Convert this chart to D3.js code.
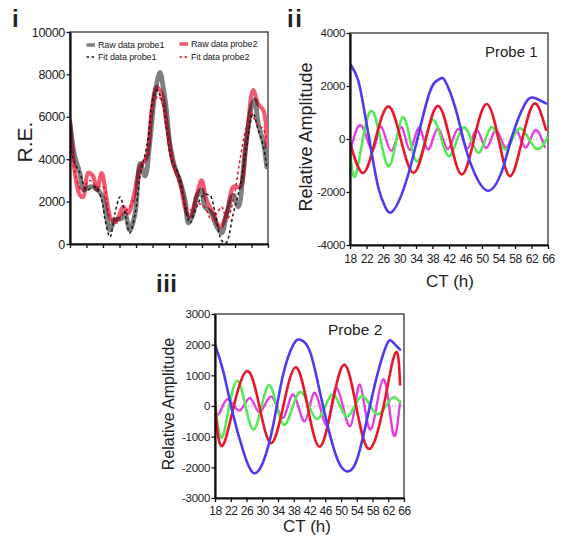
<!DOCTYPE html>
<html><head><meta charset="utf-8">
<script src="https://cdn.jsdelivr.net/npm/d3@7"></script>
<style>
body{margin:0;background:#fff}
svg{display:block}
text{font-family:"Liberation Sans",Arial,sans-serif;fill:#222}
</style>
</head><body>
<svg id="c" width="565" height="544"></svg>
<script>
// ---------- DATA ----------
const ctTicks = [18,22,26,30,34,38,42,46,50,54,58,62,66];
const reTicks = [0,2000,4000,6000,8000,10000];
const amp1Ticks = [-4000,-2000,0,2000,4000];
const amp2Ticks = [-3000,-2000,-1000,0,1000,2000,3000];

// Panel i : [CT (h), R.E.]
const rawProbe1 = [[18.0,5700],[19.2,4100],[20.4,3350],[21.2,2550],[22.8,2700],[24.1,2650],[25.7,2300],[26.9,1270],[27.7,660],[28.9,1130],[30.5,1200],[31.3,1450],[32.5,660],[33.8,1450],[35.0,3800],[36.2,3200],[37.4,4900],[38.6,7100],[39.8,8100],[40.6,7400],[41.4,6300],[42.2,4750],[43.4,3630],[44.6,3000],[45.9,2080],[46.7,990],[47.9,1450],[48.7,2220],[49.9,2550],[50.7,1750],[52.3,1450],[53.6,800],[54.8,520],[56.0,1450],[57.6,2300],[58.8,1750],[60.4,4300],[62.0,6470],[62.8,6800],[63.6,5700],[64.9,4750],[65.7,3630]];
const rawProbe2 = [[18.0,5800],[19.2,3350],[20.4,2300],[21.2,2220],[22.4,3350],[23.6,3200],[24.5,2550],[25.7,3350],[26.9,2080],[28.1,1130],[29.3,1130],[30.9,1750],[32.1,1450],[33.4,2220],[35.0,3630],[36.6,4100],[37.8,6300],[39.0,7400],[40.2,7100],[41.4,5700],[43.0,3800],[44.6,3000],[46.3,1450],[47.1,1300],[48.7,2300],[49.9,3000],[51.1,2080],[52.7,1450],[54.4,800],[56.0,1450],[57.6,2700],[59.2,2700],[60.8,4900],[62.4,7260],[63.6,6600],[64.9,6300],[65.7,4600]];
const fitProbe1 = [[18.0,5500],[18.8,3960],[20.4,3350],[22.0,2550],[24.1,2700],[25.7,2080],[26.5,1130],[27.7,330],[28.9,1450],[30.1,2220],[31.3,1450],[32.5,520],[33.8,1450],[35.0,3200],[36.6,4600],[38.2,6960],[39.0,7260],[40.2,6800],[41.4,5400],[42.6,3960],[44.2,3350],[45.9,1750],[47.1,990],[48.7,1750],[50.3,2300],[51.9,2300],[53.2,1450],[54.8,150],[55.8,50],[57.6,1450],[59.2,2700],[60.8,4600],[62.4,6150],[63.6,5400],[64.9,4600],[65.7,3630]];
const fitProbe2 = [[18.0,5600],[19.2,3350],[20.8,2550],[22.8,3000],[24.5,2700],[26.1,2700],[27.7,1270],[29.3,990],[30.9,1450],[32.5,1750],[33.8,2300],[35.0,3350],[36.6,4300],[38.2,6600],[39.4,6960],[40.6,6470],[41.8,4900],[43.0,3800],[44.6,2700],[46.3,1750],[47.5,1600],[49.1,1900],[50.7,1750],[52.3,1130],[53.6,1450],[54.8,1750],[56.0,1130],[57.6,2080],[59.2,3960],[60.8,5560],[62.0,6150],[63.2,5700],[64.9,5400],[65.7,4900]];

// Panel ii (Probe 1) : [CT (h), relative amplitude]
const p1Blue = [[18.2,2800],[20.0,2200],[21.6,950],[23.3,-570],[24.9,-1850],[26.5,-2550],[28.1,-2760],[30.5,-2100],[33.0,-840],[35.4,680],[37.8,1950],[39.8,2270],[41.0,2200],[43.5,1190],[46.0,-330],[48.3,-1330],[51.5,-1950],[54.8,-1220],[57.2,50],[60.4,1320],[62.8,1550],[65.5,1340]];
const p1Red = [[18.0,-150],[21.2,-1280],[24.2,0],[27.3,1230],[30.3,0],[33.4,-1280],[36.4,0],[39.3,1250],[42.2,0],[45.1,-1340],[48.1,0],[51.1,1320],[54.0,0],[56.8,-1400],[59.8,0],[62.7,1340],[65.5,350]];
const p1Green = [[18.0,-300],[19.6,-1250],[23.3,1060],[27.3,-1030],[30.8,820],[34.2,-850],[38.0,720],[41.8,-640],[45.5,440],[49.1,-520],[52.3,450],[55.6,-400],[59.0,400],[62.8,-330],[65.8,50]];
const p1Magenta = [[18.2,-380],[20.8,500],[23.5,-420],[25.5,470],[28.0,-440],[30.4,450],[32.5,-420],[34.7,430],[36.9,-400],[39.3,400],[41.7,-380],[44.2,380],[46.4,-360],[48.7,350],[51.0,-340],[53.4,330],[55.8,-330],[58.2,330],[60.5,-320],[62.8,320],[65.2,-300]];

// Panel iii (Probe 2)
const p2Blue = [[18.0,2000],[20.1,1130],[22.6,-280],[25.2,-1480],[27.7,-2180],[30.3,-1800],[32.8,-610],[35.3,1020],[37.9,2000],[39.7,2160],[42.1,1780],[44.6,480],[47.2,-940],[49.3,-1800],[51.4,-2130],[53.9,-1800],[56.5,-500],[59.0,910],[61.6,2000],[63.1,2090],[65.0,1840]];
const p2Red = [[18.0,100],[20.5,-1150],[26.5,1130],[32.4,-1210],[38.6,1260],[44.6,-1330],[50.8,1350],[56.9,-1390],[63.1,1450],[65.0,700]];
const p2Green = [[18.0,150],[20.1,-940],[23.7,820],[27.7,-770],[31.6,680],[35.4,-610],[39.5,450],[43.8,-420],[47.8,380],[51.4,-350],[55.2,320],[59.0,-260],[62.6,220],[65.0,120]];
const p2Magenta = [[18.0,-150],[19.2,-220],[21.3,220],[24.2,-150],[26.9,260],[29.4,-200],[32.4,300],[35.3,-390],[37.9,370],[40.8,-500],[43.4,430],[46.4,-620],[48.9,590],[52.3,-660],[54.8,700],[57.5,-770],[60.7,870],[63.2,-880],[65.0,150]];

const legendLabels = ["Raw data probe1","Raw data probe2","Fit data probe1","Fit data probe2"];

// ---------- DRAW ----------
const svg = d3.select("#c");
const COL = {blue:"#4f3bef", red:"#e8182c", green:"#55ea55", magenta:"#e43ede", gray:"#808080", pink:"#f25a74"};
const fmt = d => String(d);   // plain hyphen-minus like the reference

function panel(o){
  const g = svg.append("g");
  const x = d3.scaleLinear().domain([18,66]).range([o.x0,o.x1]);
  const y = d3.scaleLinear().domain(o.yDomain).range([o.yBot,o.yTop]);
  const id = "clip"+Math.random().toString(36).slice(2);
  svg.append("clipPath").attr("id",id).append("rect")
    .attr("x",o.x0).attr("y",o.yTop).attr("width",o.x1-o.x0).attr("height",o.yBot-o.yTop);
  g.append("rect").attr("x",o.x0).attr("y",o.yTop).attr("width",o.x1-o.x0).attr("height",o.yBot-o.yTop)
    .attr("fill","none").attr("stroke","#333").attr("stroke-width",1.3);
  const plot = g.append("g").attr("clip-path",`url(#${id})`);
  const ax = d3.axisBottom(x).tickValues(ctTicks).tickSize(4).tickSizeOuter(0).tickPadding(o.xPad||4)
    .tickFormat(o.xLabels ? fmt : "");
  const gx = g.append("g").attr("transform",`translate(0,${o.yBot})`).call(ax);
  const ay = d3.axisLeft(y).tickValues(o.yTicks).tickSize(3.5).tickSizeOuter(0).tickPadding(1.5).tickFormat(fmt);
  const gy = g.append("g").attr("transform",`translate(${o.x0},0)`).call(ay);
  [gx,gy].forEach(a=>{
    a.select(".domain").attr("stroke","#111").attr("stroke-width",2.2);
    a.selectAll(".tick line").attr("stroke","#111").attr("stroke-width",1.3);
    a.selectAll(".tick text").attr("fill","#333").style("font-family",'"Liberation Sans",Arial,sans-serif');
  });
  gx.selectAll(".tick text").style("font-size",o.xFont+"px").style("letter-spacing","-0.4px");
  gy.selectAll(".tick text").style("font-size",o.yFont+"px").style("letter-spacing","-0.3px");
  return {x,y,plot,g};
}

function drawLine(p, data, color, width, curve, opts={}){
  const line = d3.line().x(d=>p.x(d[0])).y(d=>p.y(d[1])).curve(curve);
  const path = p.plot.append("path").datum(data).attr("d",line)
    .attr("fill","none").attr("stroke",color).attr("stroke-width",width)
    .attr("stroke-linejoin","round").attr("stroke-linecap", opts.dash ? "butt" : "round");
  if(opts.dash) path.attr("stroke-dasharray",opts.dash);
  if(opts.blend) path.style("mix-blend-mode",opts.blend);
  if(opts.opacity) path.attr("opacity",opts.opacity);
  return path;
}

// Panel i
const pi = panel({x0:70,x1:268,yTop:32,yBot:244,yDomain:[0,10000],yTicks:reTicks,xLabels:false,xFont:12,yFont:12.5});
const cr = d3.curveCatmullRom.alpha(0.5);
drawLine(pi, rawProbe1, COL.gray, 4.8, cr);
drawLine(pi, rawProbe2, COL.pink, 4.2, cr, {blend:"multiply"});
drawLine(pi, fitProbe1, "#1a1a1a", 1.5, cr, {dash:"3,2.6"});
drawLine(pi, fitProbe2, "#e8102a", 1.5, cr, {dash:"3,2.6"});

// legend
const lg = svg.append("g");
const legendItems = [
  {label:legendLabels[0], x:86.5, y:45, color:COL.gray, w:3.5, dash:null},
  {label:legendLabels[1], x:179.5, y:44, color:COL.pink, w:3.5, dash:null},
  {label:legendLabels[2], x:86.5, y:57, color:"#1a1a1a", w:1.5, dash:"2.6,2.4"},
  {label:legendLabels[3], x:179.5, y:57, color:"#e8102a", w:1.5, dash:"2.6,2.4"}
];
legendItems.forEach(it=>{
  const l = lg.append("line").attr("x1",it.x).attr("x2",it.x+8.5).attr("y1",it.y).attr("y2",it.y)
    .attr("stroke",it.color).attr("stroke-width",it.w);
  if(it.dash) l.attr("stroke-dasharray",it.dash);
  lg.append("text").attr("x",it.x+11.5).attr("y",it.y+3.2).text(it.label)
    .style("font-size","9px").attr("fill","#333").style("letter-spacing","-0.15px");
});

// Panel ii
const p2 = panel({x0:350,x1:548,yTop:33,yBot:245,yDomain:[-4000,4000],yTicks:amp1Ticks,xLabels:true,xFont:12,yFont:11.5,xPad:5});
const cn = d3.curveNatural;
p2.plot.append("line").attr("x1",350).attr("x2",548).attr("y1",p2.y(0)).attr("y2",p2.y(0))
  .attr("stroke","#999").attr("stroke-width",1).attr("stroke-dasharray","1.2,1.8");
drawLine(p2, p1Magenta, COL.magenta, 2.4, cn);
drawLine(p2, p1Green, COL.green, 2.6, cn);
drawLine(p2, p1Red, COL.red, 2.6, cn);
drawLine(p2, p1Blue, COL.blue, 2.6, cn);

// Panel iii
const p3 = panel({x0:215,x1:404,yTop:314,yBot:498,yDomain:[-3000,3000],yTicks:amp2Ticks,xLabels:true,xFont:12,yFont:11.5,xPad:4});
p3.plot.append("line").attr("x1",215).attr("x2",404).attr("y1",p3.y(0)).attr("y2",p3.y(0))
  .attr("stroke","#999").attr("stroke-width",1).attr("stroke-dasharray","1.2,1.8");
drawLine(p3, p2Magenta, COL.magenta, 2.4, cn);
drawLine(p3, p2Green, COL.green, 2.6, cn);
drawLine(p3, p2Red, COL.red, 2.6, cn);
drawLine(p3, p2Blue, COL.blue, 2.6, cn);

// Texts
function txt(x,y,s,size,opts={}){
  const t = svg.append("text").attr("x",x).attr("y",y).text(s).style("font-size",size+"px");
  if(opts.bold) t.style("font-weight","bold");
  if(opts.anchor) t.attr("text-anchor",opts.anchor);
  if(opts.rotate) t.attr("transform",`rotate(-90,${x},${y})`);
  if(opts.ls) t.style("letter-spacing",opts.ls);
  t.attr("fill",opts.fill||"#222");
  return t;
}
txt(12,27,"i",24,{bold:true,fill:"#111"});
txt(287,27,"ii",24,{bold:true,fill:"#111",ls:"1.5px"});
txt(156,292,"iii",24,{bold:true,fill:"#111",ls:"0.5px"});
txt(32,142,"R.E.",21,{rotate:true,anchor:"middle",fill:"#333"});
txt(312,137,"Relative Amplitude",18,{rotate:true,anchor:"middle",fill:"#333"});
txt(174,404,"Relative Amplitude",16,{rotate:true,anchor:"middle",fill:"#333"});
txt(450,287,"CT (h)",17,{anchor:"middle",fill:"#333"});
txt(307,532,"CT (h)",17,{anchor:"middle",fill:"#333"});
txt(485,57,"Probe 1",15,{fill:"#222"});
txt(328,335,"Probe 2",15.5,{fill:"#222"});
</script>
</body></html>
